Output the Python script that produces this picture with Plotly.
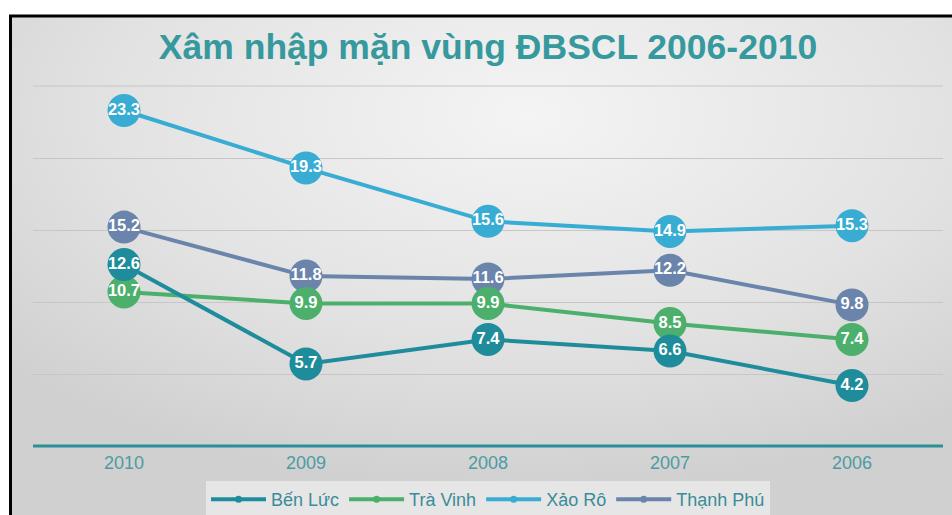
import plotly.graph_objects as go
import base64

years = ["2010", "2009", "2008", "2007", "2006"]
ben_luc = [12.6, 5.7, 7.4, 6.6, 4.2]
tra_vinh = [10.7, 9.9, 9.9, 8.5, 7.4]
xao_ro = [23.3, 19.3, 15.6, 14.9, 15.3]
thanh_phu = [15.2, 11.8, 11.6, 12.2, 9.8]

series = [
    ("Bến Lức", ben_luc, "#1f8c9c"),
    ("Trà Vinh", tra_vinh, "#4caf6b"),
    ("Xảo Rô", xao_ro, "#38acd3"),
    ("Thạnh Phú", thanh_phu, "#6a84ab"),
]

W, H = 952, 515
L, R, T, B = 33, 9, 86, 69
pw, ph = W - L - R, H - T - B

def px_x(px):
    return (px - L) / pw

def px_y(py):
    return (H - B - py) / ph

fig = go.Figure()

order = [2, 3, 1, 0]
for i in order:
    name, vals, col = series[i]
    fig.add_trace(go.Scatter(
        x=years, y=vals, mode="lines+markers+text", name=name,
        line=dict(color=col, width=4),
        marker=dict(size=33, color=col),
        text=[f"{v:.1f}" for v in vals],
        textposition="middle center",
        textfont=dict(color="white", size=16.5, family="Liberation Sans, Arial", weight="bold"),
        showlegend=False, hoverinfo="skip",
    ))

for name, vals, col in series:
    fig.add_trace(go.Scatter(
        x=[None], y=[None], mode="lines+markers", name=name,
        line=dict(color=col, width=4), marker=dict(size=7, color=col),
        showlegend=True,
    ))

svg = f'''<svg xmlns="http://www.w3.org/2000/svg" width="{W}" height="{H}">
<defs><radialGradient id="g" cx="0.55" cy="0.2" r="0.75">
<stop offset="0" stop-color="#f4f4f4"/><stop offset="0.6" stop-color="#e2e2e2"/><stop offset="1" stop-color="#d0d0d0"/>
</radialGradient></defs><rect width="{W}" height="{H}" fill="url(#g)"/></svg>'''
uri = "data:image/svg+xml;base64," + base64.b64encode(svg.encode()).decode()

fig.update_layout(
    width=W, height=H,
    margin=dict(l=L, r=R, t=T, b=B, autoexpand=False),
    paper_bgcolor="white", plot_bgcolor="rgba(0,0,0,0)",
    title=dict(text="Xâm nhập mặn vùng ĐBSCL 2006-2010", x=0.5, xref="paper",
               y=1 - 47 / H, yanchor="middle", yref="container",
               font=dict(family="Liberation Sans, Arial", size=35.5, color="#35999d", weight="bold")),
    xaxis=dict(type="category", range=[-0.5, 4.5], showgrid=False, zeroline=False,
               showline=False, ticks="", ticklabelstandoff=4,
               tickfont=dict(family="Liberation Sans, Arial", size=18, color="#4e9ba2")),
    yaxis=dict(range=[0, 25], dtick=5, showgrid=True, gridcolor="#c6c6c6", gridwidth=1,
               showticklabels=False, zeroline=False, showline=False, ticks=""),
    legend=dict(orientation="h", x=0.5, xanchor="center", y=px_y(481), yanchor="top",
                bgcolor="#e6e6e6", font=dict(family="Liberation Sans, Arial", size=18, color="#3a8c97"),
                itemwidth=55, tracegroupgap=0),
    images=[dict(source=uri, xref="paper", yref="paper", x=px_x(11), y=px_y(16),
                 sizex=(W - 11) / pw, sizey=(H - 16) / ph, sizing="stretch",
                 xanchor="left", yanchor="top", layer="below")],
    shapes=[
        dict(type="line", xref="paper", yref="paper", x0=0, x1=1, y0=1, y1=1,
             line=dict(color="#c6c6c6", width=1), layer="below"),
        dict(type="line", xref="paper", yref="paper", x0=0, x1=1, y0=0, y1=0,
             line=dict(color="#2a8f98", width=3), layer="below"),
        dict(type="line", xref="paper", yref="paper", x0=px_x(9), x1=px_x(960), y0=px_y(16), y1=px_y(16),
             line=dict(color="black", width=3)),
        dict(type="line", xref="paper", yref="paper", x0=px_x(10.5), x1=px_x(10.5), y0=px_y(16), y1=px_y(520),
             line=dict(color="black", width=3)),
    ],
    hovermode=False,
)

fig.write_html("out.html", config={"displayModeBar": False},
               post_script="document.body.style.margin='0';")
